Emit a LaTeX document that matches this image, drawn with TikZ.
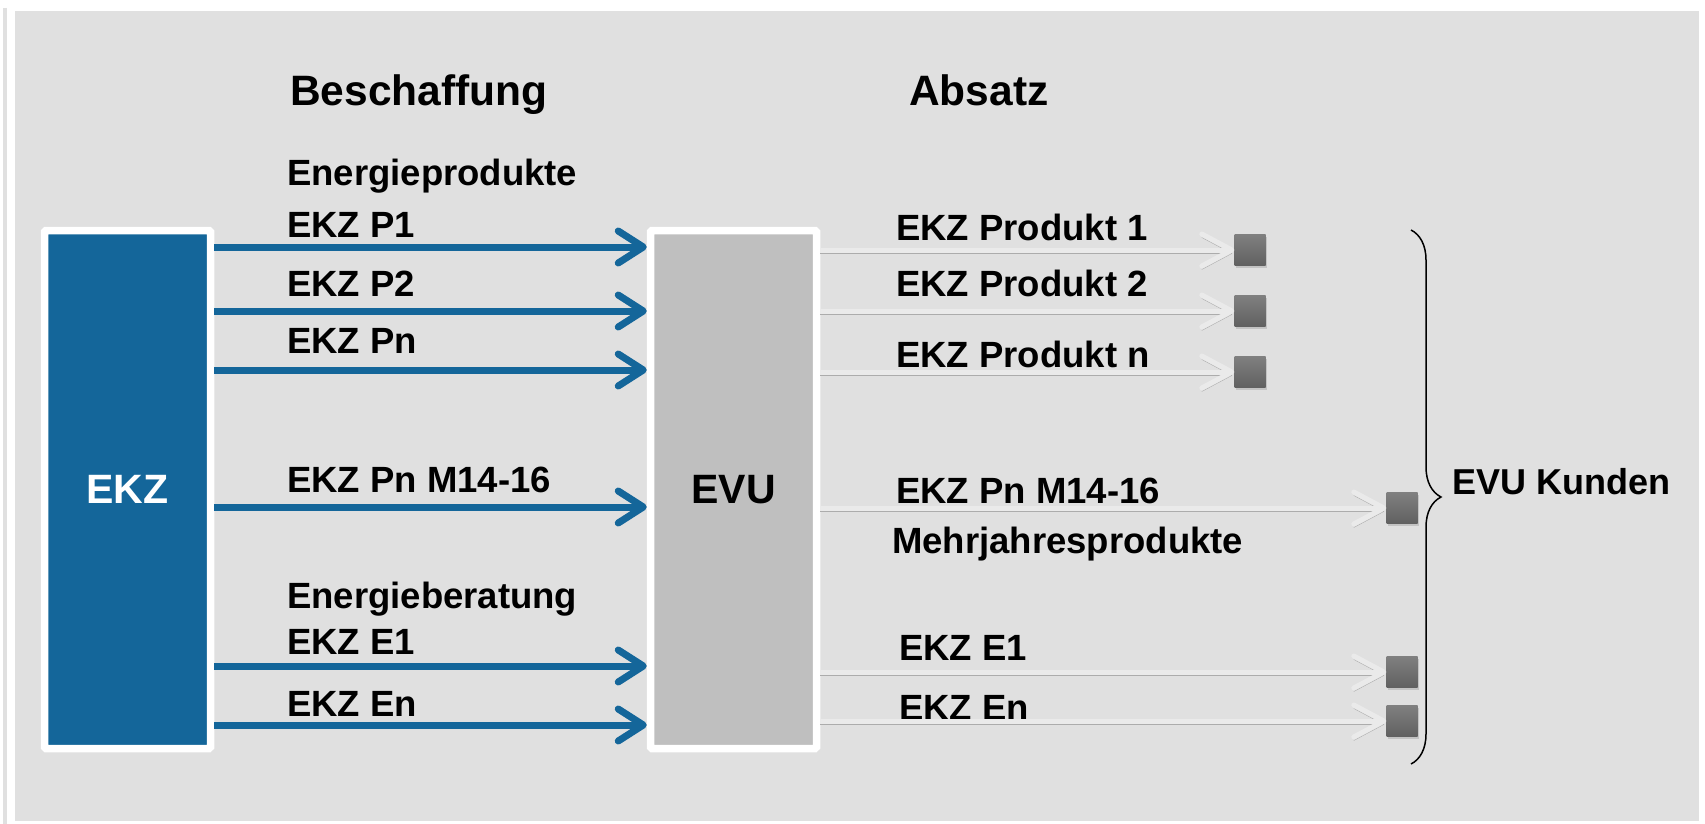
\documentclass[tikz,border=0pt]{standalone}
\usepackage{fontspec}
\setmainfont{Liberation Sans}
\usepackage{tikz}
\usetikzlibrary{arrows.meta,shadows,decorations.pathreplacing,positioning}

\definecolor{ekzblue}{RGB}{20,102,154}
\definecolor{evugray}{RGB}{191,191,191}
\definecolor{bggray}{RGB}{224,224,224}
\definecolor{outgray}{RGB}{234,234,234}
\definecolor{outshade}{RGB}{172,172,172}

\begin{document}
\begin{tikzpicture}[x=1pt,y=-1pt]
\tikzstyle{box} = [rectangle, draw=white, line width=7.5pt, rounded corners=1.5pt, minimum width=166pt, minimum height=518pt, inner sep=0pt, drop shadow={shadow xshift=2pt, shadow yshift=-3pt, opacity=0.3}];%
\tikzstyle{head} = [anchor=base west, inner sep=0pt, font=\fontsize{42.5}{46}\selectfont\bfseries];%
\tikzstyle{lbl} = [anchor=base west, inner sep=0pt, font=\fontsize{36.5}{40}\selectfont\bfseries];%
\tikzstyle{kunde} = [rectangle, minimum size=31pt, inner sep=0pt, top color=black!50, bottom color=black!62, drop shadow={shadow xshift=1.5pt, shadow yshift=-2pt, opacity=0.3}];%
\tikzstyle{inarrow} = [draw=ekzblue, line width=7pt, -{Straight Barb[length=25pt,width=32pt,round]}, preaction={draw=black!45, opacity=0.35, transform canvas={yshift=-3pt}}];%
\tikzstyle{outarrow} = [draw=outgray, line width=5pt, -{Straight Barb[length=30pt,width=32pt,round]}, preaction={draw=outshade, transform canvas={yshift=-3.5pt}}];%

\useasboundingbox (0,0) rectangle (1705,824);
\fill[white] (0,0) rectangle (1705,824);
\draw[black!12, line width=4pt] (5,8) -- (5,824);
\fill[bggray] (15,11) rectangle (1699,821);

\node at (127.5,489.5) [box, fill=ekzblue, text=white, font=\fontsize{41}{44}\selectfont\bfseries] (ekz) {EKZ};
\node at (733.5,489.5) [box, fill=evugray, font=\fontsize{41}{44}\selectfont\bfseries] (evu) {EVU};

\node at (290,106) [head] (besch) {Beschaffung};
\node at (909,106) [head] (absatz) {Absatz};

\node at (287,185) [lbl] (eprod) {Energieprodukte};
\node at (287,237) [lbl] (lp1) {EKZ P1};
\node at (287,296) [lbl] (lp2) {EKZ P2};
\node at (287,353) [lbl] (lpn) {EKZ Pn};
\node at (287,492) [lbl] (lpm) {EKZ Pn M14-16};
\node at (287,608) [lbl] (eber) {Energieberatung};
\node at (287,654) [lbl] (le1) {EKZ E1};
\node at (287,716) [lbl] (len) {EKZ En};

\node at (896,240) [lbl] (rp1) {EKZ Produkt 1};
\node at (896,296) [lbl] (rp2) {EKZ Produkt 2};
\node at (896,367) [lbl] (rpn) {EKZ Produkt n};
\node at (896,503) [lbl] (rpm) {EKZ Pn M14-16};
\node at (892,553) [lbl] (mehr) {Mehrjahresprodukte};
\node at (899,660) [lbl] (re1) {EKZ E1};
\node at (899,720) [lbl] (ren) {EKZ En};

\coordinate (b1) at (0,247);
\coordinate (b2) at (0,311);
\coordinate (b3) at (0,370);
\coordinate (b4) at (0,507);
\coordinate (b5) at (0,666);
\coordinate (b6) at (0,725);

\node at (1250,250) [kunde] (k1) {};
\node at (1250,311) [kunde] (k2) {};
\node at (1250,372) [kunde] (k3) {};
\node at (1402,508) [kunde] (k4) {};
\node at (1402,672) [kunde] (k5) {};
\node at (1402,721) [kunde] (k6) {};

\path (ekz.east |- b1)  edge[inarrow] (evu.west |- b1) ;
\path (ekz.east |- b2)  edge[inarrow] (evu.west |- b2) ;
\path (ekz.east |- b3)  edge[inarrow] (evu.west |- b3) ;
\path (ekz.east |- b4)  edge[inarrow] (evu.west |- b4) ;
\path (ekz.east |- b5)  edge[inarrow] (evu.west |- b5) ;
\path (ekz.east |- b6)  edge[inarrow] (evu.west |- b6) ;

\path (evu.east |- k1)  edge[outarrow] (k1.west) ;
\path (evu.east |- k2)  edge[outarrow] (k2.west) ;
\path (evu.east |- k3)  edge[outarrow] (k3.west) ;
\path (evu.east |- k4)  edge[outarrow] (k4.west) ;
\path (evu.east |- k5)  edge[outarrow] (k5.west) ;
\path (evu.east |- k6)  edge[outarrow] (k6.west) ;

\coordinate (bt) at (1411,230);
\coordinate (bb) at (1411,764);
\draw[line width=1.5pt, decorate, decoration={brace, amplitude=30pt, aspect=0.5}] (bt) -- (bb);
\node at (1452,494) [lbl, font=\fontsize{36}{40}\selectfont\bfseries] (kunden) {EVU Kunden};

\end{tikzpicture}
\end{document}
